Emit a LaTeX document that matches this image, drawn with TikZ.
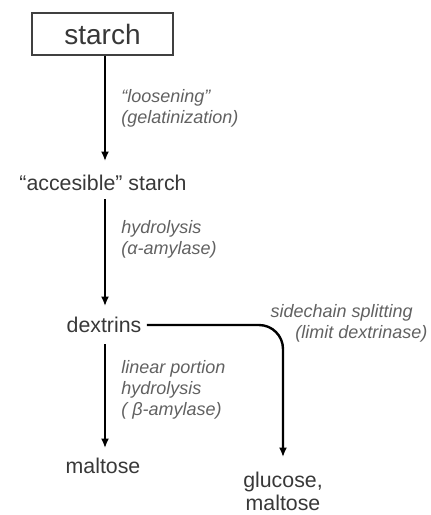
\documentclass[tikz,border=0pt]{standalone}
\usepackage{fontspec}
\setmainfont{Liberation Sans}
\usetikzlibrary{arrows.meta}
\definecolor{textgray}{gray}{0.22}
\definecolor{labelgray}{gray}{0.38}
\definecolor{boxgray}{gray}{0.25}

\begin{document}
\begin{tikzpicture}[-{Latex[length=7pt,width=6pt]}, x=0.75pt, y=0.75pt, line width=1.8pt,
        box/.style ={rectangle, draw=boxgray, line width=1.4pt, text=textgray,
        font=\fontsize{21}{25}\selectfont, minimum width=105.75pt, minimum height=31.5pt},
        product/.style ={text=textgray, font=\fontsize{16}{17.25}\selectfont, align=center},
        enzyme/.style ={text=labelgray, font=\fontsize{13.5}{15.75}\selectfont\itshape, align=left}]

        \useasboundingbox (0, 0) rectangle (430, -515);

        %\node [estilo] (nombre) at (posicion) {};
        \node[box] (starch) at (102.5, -34) {starch};
        \node[product] (acc) at (103, -183) {``accesible'' starch};
        \node[product] (dex) at (104, -325) {dextrins};
        \node[product] (mal) at (103, -466) {maltose};
        \node[product] (glu) at (283, -491) {glucose,\\maltose};

        \path (starch.south -| 105, 0) edge node[enzyme, right = 8pt] {``loosening''\\(gelatinization)} (105, -161);
        \path (105, -199) edge node[enzyme, right = 8pt, pos = 0.38] {hydrolysis\\(α-amylase)} (105, -306);
        \path (105, -344) edge node[enzyme, right = 8pt, pos = 0.44] {linear portion\\hydrolysis\\( β-amylase)} (105, -448);

        \draw[rounded corners = 18pt] (dex.east) -| (283, -457);
        \node[enzyme] (split) at (265, -323) [anchor = west] {sidechain splitting\\\hspace*{18.5pt}(limit dextrinase)};
    \end{tikzpicture}
\end{document}
